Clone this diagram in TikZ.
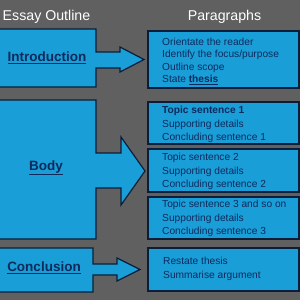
\documentclass[tikz,border=0pt]{standalone}
\usepackage{fontspec}
\setmainfont{Liberation Sans}
\definecolor{bg}{HTML}{606060}
\definecolor{boxfill}{HTML}{1A9ED8}
\definecolor{edge}{HTML}{0A1E3A}
\definecolor{ink}{HTML}{0E2A5C}
\begin{document}
\begin{tikzpicture}[x=1pt,y=-1pt,
  outline/.style={fill=boxfill,draw=edge,line width=1.2pt,line join=miter},
  para/.style={anchor=north west,inner sep=0pt,align=left,text=ink,font=\fontsize{10.2}{13.7}\selectfont},
  sectlabel/.style={text=ink,font=\bfseries\fontsize{13.5}{15}\selectfont},
  titletext/.style={anchor=base,text=white,font=\fontsize{14.2}{16}\selectfont}]
\fill[bg] (0,0) rectangle (300,300);
\useasboundingbox (0,0) rectangle (300,300);
\clip (0,0) rectangle (300,300);
% titles
\node[titletext] (t1) at (46.5,20) {Essay Outline};
\node[titletext] (t2) at (224.5,20) {Paragraphs};
% left shapes with arrows
\draw[outline] (-5,29) -- (96,29) -- (96,52) -- (120,52) -- (120,47) -- (144,59.5) -- (120,72) -- (120,68) -- (96,68) -- (96,87) -- (-5,87) -- cycle;
\draw[outline] (-5,100) -- (96,100) -- (96,153) -- (121,153) -- (121,137) -- (145,171) -- (121,205) -- (121,188) -- (96,188) -- (96,239) -- (-5,239) -- cycle;
\draw[outline] (-5,248) -- (93,248) -- (93,264) -- (117,264) -- (117,258) -- (140,269.5) -- (117,281) -- (117,275) -- (93,275) -- (93,292) -- (-5,292) -- cycle;
\node[sectlabel] (intro) at (47,58) {\underline{Introduction}};
\node[sectlabel] (body) at (46,168) {\underline{Body}};
\node[sectlabel] (concl) at (44,268) {\underline{Conclusion}};
% right boxes
\draw[outline] (148,31) rectangle (299,88);
\draw[outline] (148,102) rectangle (299,144);
\draw[outline] (148,149) rectangle (299,192);
\draw[outline] (148,197) rectangle (299,239);
\draw[outline] (148,248) rectangle (299,291);
\node[para,font=\fontsize{10.2}{12.4}\selectfont] (p1) at (162,38) {Orientate the reader\\Identify the focus/purpose\\Outline scope\\State \textbf{\underline{thesis}}};
\node[para] (p2) at (162,106) {\textbf{Topic sentence 1}\\Supporting details\\Concluding sentence 1};
\node[para] (p3) at (162,153) {Topic sentence 2\\Supporting details\\Concluding sentence 2};
\node[para] (p4) at (162,200) {Topic sentence 3 and so on\\Supporting details\\Concluding sentence 3};
\node[para] (p5) at (163,257) {Restate thesis\\Summarise argument};
\end{tikzpicture}
\end{document}
